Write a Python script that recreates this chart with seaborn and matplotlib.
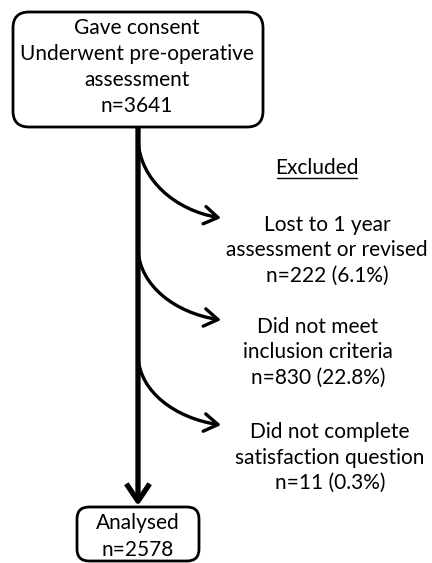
import matplotlib
matplotlib.use("Agg")
import matplotlib.pyplot as plt
from matplotlib.patches import FancyBboxPatch, FancyArrowPatch
from matplotlib.path import Path
import seaborn as sns

sns.set_theme(style="white")
plt.rcParams['font.family'] = ['Lato', 'DejaVu Sans']
plt.rcParams['text.color'] = 'black'

# ---- data ----
start_lines = ["Gave consent", "Underwent pre-operative", "assessment"]
start_n = 3641
excluded_title = "Excluded"
excluded_reasons = [
    ["Lost to 1 year", "assessment or revised"],
    ["Did not meet", "inclusion criteria"],
    ["Did not complete", "satisfaction question"],
]
excluded_n = [222, 830, 11]
excluded_pct = [6.1, 22.8, 0.3]
final_label = "Analysed"
final_n = 2578

W, H = 432, 563
fig = plt.figure(figsize=(W / 100, H / 100), dpi=100)
ax = fig.add_axes([0, 0, 1, 1])
ax.set_xlim(0, W)
ax.set_ylim(H, 0)
ax.axis("off")

FS = 15
LH = 26
black = "black"

# top box
top = FancyBboxPatch((13, 12), 250, 115, boxstyle="round,pad=0,rounding_size=16",
                     fc="white", ec=black, lw=2.0, zorder=3)
ax.add_patch(top)
lines = start_lines + [f"n={start_n}"]
for i, t in enumerate(lines):
    ax.text(137, 28 + i * LH, t, ha="center", va="center", fontsize=FS, zorder=4)

# bottom box
bot = FancyBboxPatch((77, 507), 122, 54, boxstyle="round,pad=0,rounding_size=12",
                     fc="white", ec=black, lw=2.0, zorder=3)
ax.add_patch(bot)
ax.text(138, 523, final_label, ha="center", va="center", fontsize=FS, zorder=4)
ax.text(138, 550, f"n={final_n}", ha="center", va="center", fontsize=FS, zorder=4)

# main vertical arrow
main = FancyArrowPatch((138, 127), (138, 506), arrowstyle="->,head_length=0.9,head_width=0.6",
                       mutation_scale=14, lw=3.8, color=black, zorder=2,
                       shrinkA=0, shrinkB=0, capstyle="butt")
ax.add_patch(main)

# excluded header
ax.text(317, 168, excluded_title, ha="center", va="center", fontsize=FS)
ax.plot([277, 357], [178, 178], color=black, lw=1.0)

starts = [140, 250, 357]
ends = [218, 320, 425]
text_cx = [327, 318, 330]
for k, (reason, n, p) in enumerate(zip(excluded_reasons, excluded_n, excluded_pct)):
    y0, y1 = starts[k], ends[k]
    dy = y1 - y0
    verts = [(138, y0), (140, y0 + 0.51 * dy), (175, y0 + 0.9 * dy), (221, y1)]
    path = Path(verts, [Path.MOVETO, Path.CURVE4, Path.CURVE4, Path.CURVE4])
    arr = FancyArrowPatch(path=path, arrowstyle="->,head_length=0.7,head_width=0.45",
                          mutation_scale=14, lw=2.4, color=black, zorder=2)
    ax.add_patch(arr)
    ty = y1 + 7
    for j, t in enumerate(reason + [f"n={n} ({p}%)"]):
        ax.text(text_cx[k], ty + j * 25.5, t, ha="center", va="center", fontsize=FS)

fig.savefig("out.png", dpi=100)
